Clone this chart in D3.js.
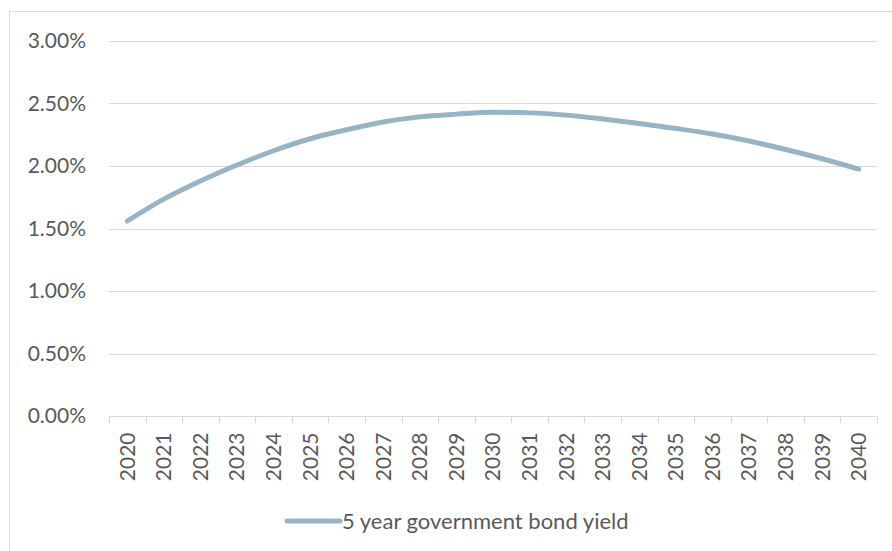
<!DOCTYPE html>
<html>
<head>
<meta charset="utf-8">
<script src="https://cdn.jsdelivr.net/npm/d3@7"></script>
<style>
  body { margin: 0; background: #fff; }
  svg { display: block; font-family: Lato, "Open Sans", sans-serif; }
</style>
</head>
<body>
<div id="chart"></div>
<script>
const years = ["2020", "2021", "2022", "2023", "2024", "2025", "2026", "2027", "2028", "2029",
  "2030", "2031", "2032", "2033", "2034", "2035", "2036", "2037", "2038", "2039", "2040"];
const yields = [1.56, 1.735, 1.88, 2.008, 2.122, 2.218, 2.29, 2.352, 2.393, 2.415,
  2.43, 2.425, 2.407, 2.376, 2.34, 2.30, 2.256, 2.20, 2.132, 2.058, 1.975];
const yTicks = [0, 0.5, 1, 1.5, 2, 2.5, 3];
const seriesName = "5 year government bond yield";

const width = 892;
const height = 551;
const margin = { top: 41, right: 15, bottom: 135, left: 109 };

const chartWidth = width - margin.left - margin.right;
const chartHeight = height - margin.top - margin.bottom;

const svg = d3.select("#chart")
  .append("svg")
  .attr("width", width)
  .attr("height", height);

// chart area border (only top and left visible in the crop)
svg.append("rect")
  .attr("x", 9.5)
  .attr("y", 11.5)
  .attr("width", 900)
  .attr("height", 600)
  .attr("fill", "none")
  .attr("stroke", "#d9d9d9");

const g = svg.append("g")
  .attr("transform", `translate(${margin.left},${margin.top})`);

const x = d3.scaleBand()
  .domain(years)
  .range([0, chartWidth]);

const y = d3.scaleLinear()
  .domain([0, 3])
  .range([chartHeight, 0]);

// gridlines
g.selectAll(".grid")
  .data(yTicks.filter(d => d > 0))
  .enter()
  .append("line")
  .attr("x1", 0)
  .attr("x2", chartWidth)
  .attr("y1", d => Math.round(y(d)) + 0.5)
  .attr("y2", d => Math.round(y(d)) + 0.5)
  .attr("stroke", "#d9d9d9")
  .attr("stroke-width", 1.2);

// y labels
g.selectAll(".ylab")
  .data(yTicks)
  .enter()
  .append("text")
  .attr("x", -23)
  .attr("y", d => y(d))
  .attr("dy", "0.35em")
  .attr("text-anchor", "end")
  .attr("font-size", "21px")
  .attr("fill", "#595959")
  .text(d => d.toFixed(2) + "%");

// x axis
const xAxis = g.append("g")
  .attr("transform", `translate(0,${Math.round(chartHeight) + 0.5})`);

xAxis.append("line")
  .attr("x1", 0)
  .attr("x2", chartWidth)
  .attr("stroke", "#d9d9d9")
  .attr("stroke-width", 1.2);

const tickPos = years.map(d => x(d)).concat([chartWidth]);
xAxis.selectAll(".tick")
  .data(tickPos)
  .enter()
  .append("line")
  .attr("x1", d => Math.round(d) + 0.5)
  .attr("x2", d => Math.round(d) + 0.5)
  .attr("y1", 0)
  .attr("y2", 7)
  .attr("stroke", "#d9d9d9")
  .attr("stroke-width", 1.2);

xAxis.selectAll(".xlab")
  .data(years)
  .enter()
  .append("text")
  .attr("transform", d => `translate(${x(d) + x.bandwidth() / 2},16) rotate(-90)`)
  .attr("text-anchor", "end")
  .attr("dy", "0.35em")
  .attr("font-size", "21px")
  .attr("fill", "#595959")
  .text(d => d);

// line
const line = d3.line()
  .x((d, i) => x(years[i]) + x.bandwidth() / 2)
  .y(d => y(d))
  .curve(d3.curveMonotoneX);

g.append("path")
  .datum(yields)
  .attr("d", line)
  .attr("fill", "none")
  .attr("stroke", "#98b4c4")
  .attr("stroke-width", 5)
  .attr("stroke-linecap", "round");

// legend
const legend = svg.append("g")
  .attr("transform", "translate(287,521)");

legend.append("line")
  .attr("x1", 0)
  .attr("x2", 53)
  .attr("stroke", "#98b4c4")
  .attr("stroke-width", 5)
  .attr("stroke-linecap", "round");

legend.append("text")
  .attr("x", 55)
  .attr("dy", "0.35em")
  .attr("font-size", "22px")
  .attr("fill", "#595959")
  .text(seriesName);
</script>
</body>
</html>
